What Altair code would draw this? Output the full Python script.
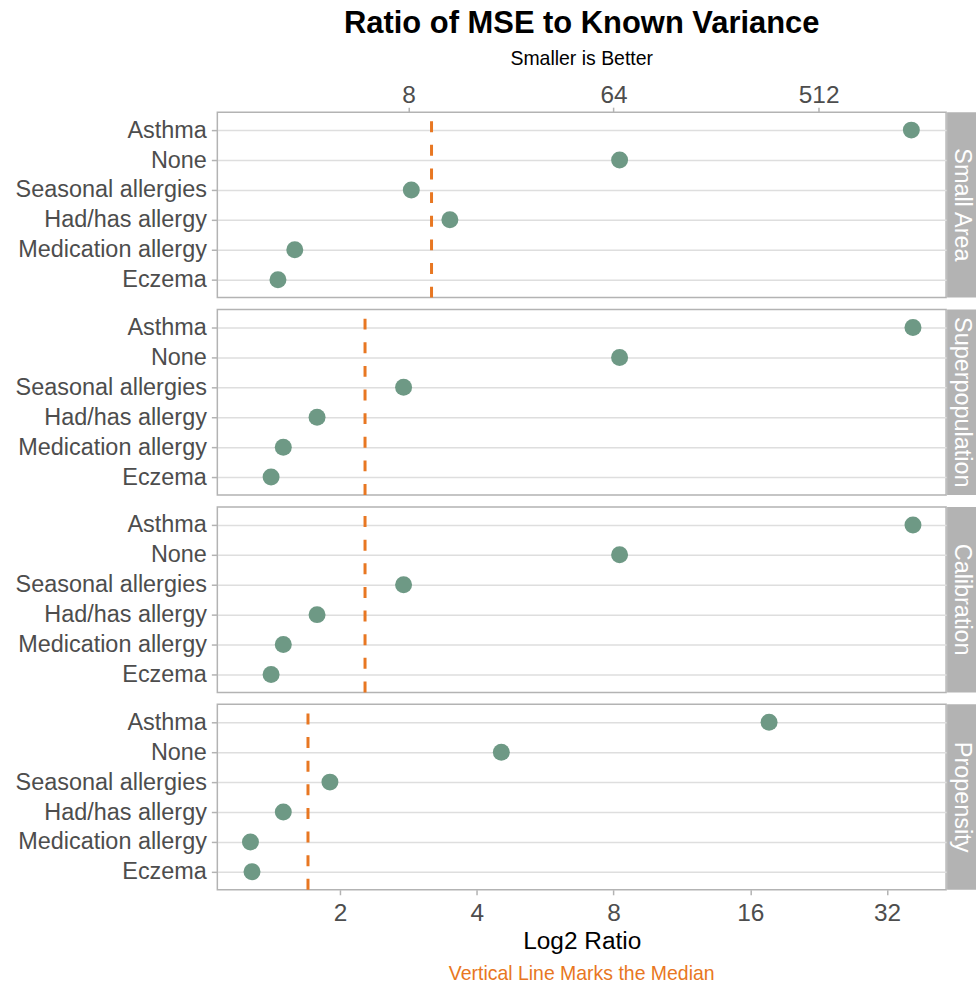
import altair as alt
import pandas as pd
import numpy as np

# ---- data ----
categories = ["Asthma", "None", "Seasonal allergies", "Had/has allergy",
              "Medication allergy", "Eczema"]
panels = ["Small Area", "Superpopulation", "Calibration", "Propensity"]

small_area = [36.2, 8.25, 2.87, 3.49, 1.59, 1.46]
superpopulation = [36.5, 8.25, 2.76, 1.78, 1.50, 1.41]
calibration = [36.5, 8.25, 2.76, 1.78, 1.50, 1.41]
propensity = [17.6, 4.53, 1.90, 1.50, 1.27, 1.28]

bottom_ticks = [2, 4, 8, 16, 32]
top_ticks = [8, 64, 512]          # squared scale shown on the top axis

series = [small_area, superpopulation, calibration, propensity]

# ---- styling ----
FONT = "Liberation Sans"
W, H, STRIP = 731, 186, 30
POINT_COLOR = "#6e9985"
ORANGE = "#E87722"
GREY70 = "#b3b3b3"
GRID = "#dedede"
TEXT = "#4d4d4d"

all_vals = np.log2(np.concatenate([np.array(s, dtype=float) for s in series]))
lo, hi = all_vals.min(), all_vals.max()
pad = 0.05 * (hi - lo)
xscale = alt.Scale(type="log", base=2, domain=[2 ** (lo - pad), 2 ** (hi + pad)], nice=False)


def make_panel(i, name, vals):
    df = pd.DataFrame({"category": categories, "ratio": vals})
    med = pd.DataFrame({"median": [float(np.median(vals))]})
    if i == 0:
        xaxis = alt.Axis(orient="top", values=[float(v) for v in np.sqrt(top_ticks)],
                         labelExpr="format(datum.value*datum.value, 'd')",
                         title=None, grid=False, tickSize=5, labelPadding=0,
                         labelFontSize=24.5)
    elif i == len(panels) - 1:
        xaxis = alt.Axis(orient="bottom", values=bottom_ticks, format="d",
                         title="Log2 Ratio", grid=False, tickSize=5, labelPadding=7,
                         labelFontSize=24.5,
                         titleFontSize=24.5, titleColor="black", titleFontWeight="normal",
                         titlePadding=4)
    else:
        xaxis = None
    yaxis = alt.Axis(title=None, grid=True, gridColor=GRID, gridWidth=1.5,
                     tickSize=6, labelPadding=5, labelFontSize=23.5, labelLimit=0)

    ysc = alt.Scale(type="point", padding=0.6)
    rule = alt.Chart(med).mark_rule(color=ORANGE, strokeWidth=3, strokeDash=[11, 12.7]).encode(
        x=alt.X("median:Q", scale=xscale, axis=xaxis),
        y=alt.value(H), y2=alt.value(0))
    pts = alt.Chart(df).mark_point(filled=True, size=290, color=POINT_COLOR, opacity=1).encode(
        x=alt.X("ratio:Q", scale=xscale, axis=xaxis),
        y=alt.Y("category:N", sort=categories, scale=ysc, axis=yaxis))
    sdf = pd.DataFrame({"panel": [name]})
    strip_rect = alt.Chart(sdf).mark_rect(color=GREY70).encode(
        x=alt.value(W + 1), x2=alt.value(W + STRIP), y=alt.value(0), y2=alt.value(H))
    strip_text = alt.Chart(sdf).mark_text(angle=90, color="white", fontSize=23.5, font=FONT,
                                          align="center", baseline="middle").encode(
        x=alt.value(W + 1 + STRIP / 2), y=alt.value(H / 2), text="panel:N")
    props = dict(width=W, height=H)
    if i == 0:
        props["title"] = alt.TitleParams(
            text="Ratio of MSE to Known Variance", subtitle="Smaller is Better",
            anchor="middle", frame="group", font=FONT, fontSize=31, fontWeight="bold",
            color="black", subtitleFont=FONT, subtitleFontSize=19.5, subtitleColor="black",
            subtitlePadding=10, offset=13)
    if i == len(panels) - 1:
        props["title"] = alt.TitleParams(
            text="Vertical Line Marks the Median", orient="bottom", anchor="middle",
            frame="group", font=FONT, fontSize=19.5, fontWeight="normal", color=ORANGE,
            offset=12)
    return alt.layer(rule, pts, strip_rect, strip_text).properties(**props)


chart = alt.vconcat(*[make_panel(i, n, s) for i, (n, s) in enumerate(zip(panels, series))],
                    spacing=6).properties(
    padding={"left": 14, "top": 5, "right": 0, "bottom": 2}
).configure_view(
    stroke=GREY70, strokeWidth=1.5
).configure_axis(
    labelFont=FONT, titleFont=FONT, labelColor=TEXT, labelFontSize=23,
    tickColor=GREY70, tickWidth=1.5, domain=False
)

chart.save("out.html", embed_options={"renderer": "svg", "actions": False})
